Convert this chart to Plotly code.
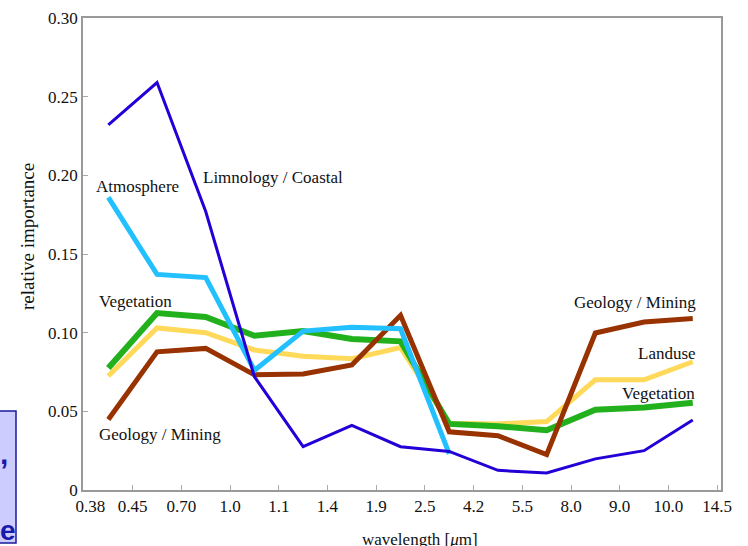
import plotly.graph_objects as go

# ---------------- data ----------------
tick_labels = ["0.38", "0.45", "0.70", "1.0", "1.1", "1.4", "1.9", "2.5",
               "4.2", "5.5", "8.0", "9.0", "10.0", "14.5"]

limnology = [0.232, 0.259, 0.177, 0.072, 0.0275, 0.041, 0.0275, 0.0245,
             0.0125, 0.0108, 0.0198, 0.0250, 0.0445]
atmosphere = [0.186, 0.137, 0.135, 0.076, 0.101, 0.1035, 0.1025, 0.023]
vegetation = [0.0775, 0.1125, 0.110, 0.098, 0.101, 0.096, 0.0945, 0.042,
              0.0405, 0.038, 0.051, 0.0525, 0.0555]
landuse = [0.0725, 0.103, 0.100, 0.089, 0.085, 0.0835, 0.0905, 0.0425,
           0.042, 0.0435, 0.070, 0.070, 0.0815]
geology = [0.0448, 0.0878, 0.0900, 0.0732, 0.0738, 0.0795, 0.111, 0.037,
           0.0345, 0.0225, 0.0998, 0.1068, 0.109]

series = [
    ("Landuse", landuse, "#ffd95a", 5),
    ("Vegetation", vegetation, "#22b11c", 6),
    ("Geology / Mining", geology, "#983200", 5),
    ("Atmosphere", atmosphere, "#22c0ff", 5),
    ("Limnology / Coastal", limnology, "#2200d8", 3),
]

SERIF = "Liberation Serif, Times New Roman, serif"

fig = go.Figure()
for name, vals, color, width in series:
    fig.add_trace(go.Scatter(
        x=[i + 0.5 for i in range(len(vals))], y=vals, mode="lines",
        name=name, line=dict(color=color, width=width),
        showlegend=False, hoverinfo="skip"))

# pixel helpers (plot area: x 84 -> 0, 48.7 px/unit ; y 490 -> 0, 1573 px/unit)
def dx(px):
    return (px - 84) / 48.7

def dy(py):
    return (490 - py) / 1573

labels = [
    ("Atmosphere", 138, 187, "center"),
    ("Limnology / Coastal", 273, 178, "center"),
    ("Vegetation", 97, 302, "left"),
    ("Geology / Mining", 97, 435, "left"),
    ("Geology / Mining", 698, 303, "right"),
    ("Landuse", 698, 354, "right"),
    ("Vegetation", 697, 394, "right"),
]
for txt, px, py, anchor in labels:
    fig.add_annotation(x=dx(px), y=dy(py), xref="x", yref="y", text=txt,
                       showarrow=False, xanchor=anchor, yanchor="middle",
                       font=dict(family=SERIF, size=17, color="#111"))

# x-axis title as annotation
W, H = 748, 546
L, R, T, B = 83, 27, 18, 56
pw, ph = W - L - R, H - T - B

def px_paper(px):
    return (px - L) / pw

def py_paper(py):
    return (H - B - py) / ph

fig.add_annotation(x=px_paper(420), y=py_paper(528), xref="paper", yref="paper",
                   text="wavelength [<i>μ</i>m]", showarrow=False,
                   xanchor="center", yanchor="top",
                   font=dict(family=SERIF, size=17, color="#111"))
fig.add_annotation(x=px_paper(27), y=py_paper(237), xref="paper", yref="paper",
                   text="relative importance", showarrow=False, textangle=-90,
                   xanchor="center", yanchor="middle",
                   font=dict(family=SERIF, size=19, color="#111"))

# cropped slide box at lower-left
fig.add_shape(type="rect", xref="paper", yref="paper",
              x0=px_paper(-5), x1=px_paper(16), y0=py_paper(543), y1=py_paper(411),
              fillcolor="#ccccff", line=dict(color="#1a1a99", width=1.5))
fig.add_annotation(x=px_paper(4), y=py_paper(453), xref="paper", yref="paper",
                   text="<b>,</b>", showarrow=False, xanchor="center", yanchor="middle",
                   font=dict(family="Liberation Sans, Arial", size=30, color="#1a1aaa"))
fig.add_annotation(x=px_paper(18), y=py_paper(530), xref="paper", yref="paper",
                   text="<b>be</b>", showarrow=False, xanchor="right", yanchor="middle",
                   font=dict(family="Liberation Sans, Arial", size=28, color="#1a1aaa"))

tt = list(tick_labels)
tt[0] = "\u00a0\u00a0\u00a0" + tt[0]

fig.update_layout(
    width=W, height=H,
    margin=dict(l=L, r=R, t=T, b=B, autoexpand=False),
    paper_bgcolor="white", plot_bgcolor="white",
    font=dict(family=SERIF, size=17, color="#111"),
    xaxis=dict(range=[-0.02, 13.08], tickmode="array",
               tickvals=list(range(len(tick_labels))), ticktext=tt,
               ticks="inside", ticklen=5, tickcolor="#aaa", tickwidth=1,
               showline=True, linecolor="#999", linewidth=1.5, mirror=True,
               showgrid=False, zeroline=False, automargin=False,
               tickfont=dict(family=SERIF, size=17, color="#111")),
    yaxis=dict(range=[0, 0.30], tickmode="array",
               tickvals=[0, 0.05, 0.10, 0.15, 0.20, 0.25, 0.30],
               ticktext=["0", "0.05", "0.10", "0.15", "0.20", "0.25", "0.30"],
               ticks="inside", ticklen=5, tickcolor="#aaa", tickwidth=1,
               showline=True, linecolor="#999", linewidth=1.5, mirror=True,
               showgrid=False, zeroline=False, automargin=False,
               tickfont=dict(family=SERIF, size=17, color="#111")),
)

fig.write_html("out.html", config={"displayModeBar": False},
               post_script="document.body.style.margin='0';")
